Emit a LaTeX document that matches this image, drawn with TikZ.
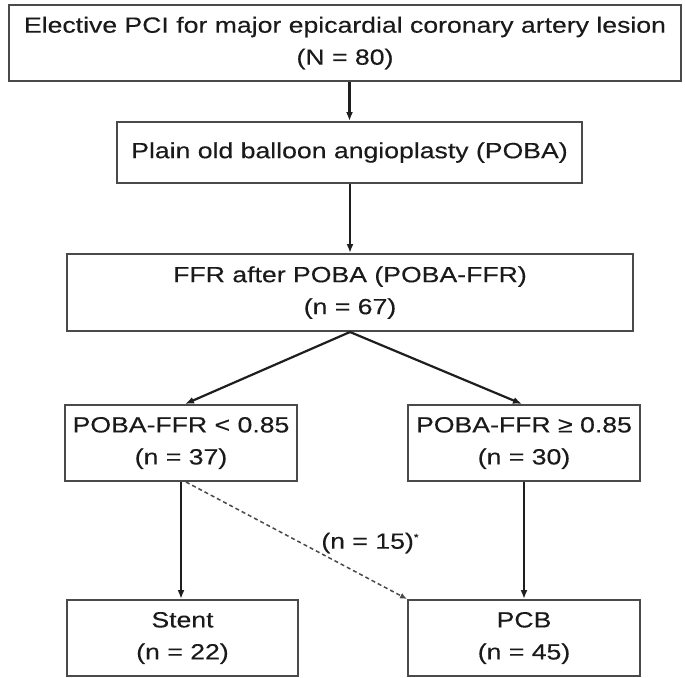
\documentclass[tikz,border=0pt]{standalone}
\usepackage{fontspec}
\setmainfont{Liberation Sans}[FakeStretch=1.21,FakeBold=0.3]
\usetikzlibrary{arrows.meta}
\definecolor{boxgray}{HTML}{4A4A4A}
\definecolor{linegray}{HTML}{1E1E1E}
\definecolor{textgray}{HTML}{1A1A1A}
\begin{document}
\begin{tikzpicture}[x=1pt,y=-1pt,
  box/.style={draw=boxgray, line width=2pt, inner sep=0pt, align=center,
    font=\fontsize{22}{32}\selectfont, text=textgray},
  conn/.style={line width=2.2pt, draw=linegray, -{Latex[length=9pt,width=7pt]}},
  dconn/.style={line width=1.5pt, draw=boxgray, dash pattern=on 4pt off 3pt,
    -{Latex[length=7pt,width=6pt]}},
  lbl/.style={inner sep=0pt, font=\fontsize{22}{26}\selectfont, text=textgray}]
\useasboundingbox (0,0) rectangle (685,677);
\node[box, minimum width=672pt, minimum height=76pt] (top) at (345,43)
  {Elective PCI for major epicardial coronary artery lesion\\(N = 80)};
\node[box, minimum width=465pt, minimum height=61pt] (poba) at (349.5,152.5)
  {Plain old balloon angioplasty (POBA)};
\node[box, minimum width=566pt, minimum height=77pt] (ffr) at (350,292.5)
  {FFR after POBA (POBA-FFR)\\(n = 67)};
\node[box, minimum width=232pt, minimum height=76pt] (L) at (181,443)
  {POBA-FFR < 0.85\\(n = 37)};
\node[box, minimum width=232pt, minimum height=76pt] (R) at (524,443)
  {POBA-FFR ≥ 0.85\\(n = 30)};
\node[box, minimum width=231pt, minimum height=76pt] (stent) at (182.5,638)
  {Stent\\(n = 22)};
\node[box, minimum width=232pt, minimum height=76pt] (pcb) at (524,638)
  {PCB\\(n = 45)};
\draw[conn] (poba.north |- top.south) -- (poba.north);
\draw[conn] (ffr.north |- poba.south) -- (ffr.north);
\draw[conn] (ffr.south) -- ([xshift=4pt]L.north);
\draw[conn] (ffr.south) -- ([xshift=-2pt]R.north);
\draw[conn] (L.south) -- (L.south |- stent.north);
\draw[conn] (R.south) -- (R.south |- pcb.north);
\draw[dconn] ([xshift=5pt]L.south) -- (pcb.north west);
\node[lbl] (n15) at (370,543) {(n = 15)\raisebox{8pt}{\fontsize{10}{10}\selectfont *}};
\end{tikzpicture}
\end{document}
